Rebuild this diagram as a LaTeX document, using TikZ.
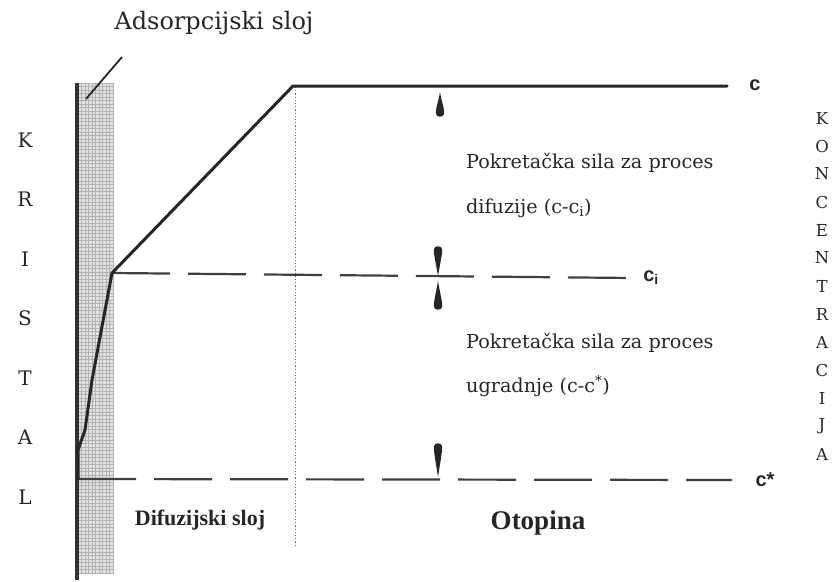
\documentclass[tikz,border=0pt]{standalone}
\usepackage{fontspec}
\setmainfont{DejaVu Serif}
\newfontfamily\labsans{Liberation Sans}
\newfontfamily\timesf{Liberation Serif}
\begin{document}
\begin{tikzpicture}[x=1pt,y=-1pt,
  txt/.style={inner sep=0pt, text=black!85},
  body/.style={txt, font=\fontsize{19.2}{21}\selectfont, anchor=west},
  vletter/.style={txt, font=\fontsize{20}{22}\selectfont},
  hletter/.style={txt, font=\fontsize{16.5}{18}\selectfont},
  clabel/.style={txt, font=\labsans\bfseries\fontsize{20}{22}\selectfont},
  profile/.style={line width=3pt, black!85, line join=round, line cap=round},
  dashline/.style={line width=2.2pt, black!75, dash pattern=on 58pt off 18pt},
  teardrop/.pic={\fill[black!85] (0,0) .. controls (1.2,8) and (4.3,\tdl-9) .. (4.2,\tdl-3.5)
      .. controls (4,\tdl+0.8) and (-4,\tdl+0.8) .. (-4.2,\tdl-3.5)
      .. controls (-4.3,\tdl-9) and (-1.2,8) .. cycle;}
]
\useasboundingbox (0,0) rectangle (834,581);

% crystal / adsorption strip
\fill[gray!22] (76,83) rectangle (113,574);
\foreach \i in {0,...,140} {\draw[gray!60, line width=0.5pt] (76,{83+3.5*\i}) -- (113,{83+3.5*\i});}
\foreach \i in {0,...,10} {\draw[gray!60, line width=0.5pt] ({78+3.5*\i},83) -- ({78+3.5*\i},574);}
\draw[line width=3.5pt, black!80] (77,83) -- (77,580);

% key points
\coordinate (p0) at (78,479);
\coordinate (p1) at (78,450);
\coordinate (p2) at (85,430);
\coordinate (p3) at (92,380);
\coordinate (ki) at (112,273);
\coordinate (ktop) at (293,86);
\coordinate (cend) at (727,86);
\coordinate (ciend) at (632,278);
\coordinate (csend) at (732,480);
\coordinate (ldA) at (122,57);
\coordinate (ldB) at (86,99);
\coordinate (dotA) at (295,87);
\coordinate (dotB) at (295,545);

% leader line to adsorption layer
\draw[line width=1.8pt, black!85] (ldA) -- (ldB);

% dotted boundary of the diffusion layer
\draw[black!60, line width=0.8pt, dash pattern=on 1.2pt off 2pt] (dotA) -- (dotB);

% dashed levels
\draw[dashline] (ki) -- (ciend);
\draw[dashline] (p0) -- (csend);

% concentration profile
\draw[profile] (p0) -- (p1) -- (p2) -- (p3) -- (ki) -- (ktop) -- (cend);

% arrow heads
\def\tdl{25}
\pic at (440,92) {teardrop};
\def\tdl{30}
\pic[rotate=180] at (438,276) {teardrop};
\def\tdl{29}
\pic at (438,281) {teardrop};
\def\tdl{34}
\pic[rotate=180] at (438,477) {teardrop};

% labels
\node[txt, font=\fontsize{24}{26}\selectfont] (adsorp) at (214,23) {Adsorpcijski sloj};
\node[clabel] (lc) at (755,85) {c};
\node[clabel] (lci) at (651,278) {c\textsubscript{i}};
\node[clabel] (lcs) at (765,480) {c*};

\node[body] (t1a) at (466,163) {Pokretačka sila za proces};
\node[body] (t1b) at (466,208) {difuzije (c-c\textsubscript{i})};
\node[body] (t2a) at (466,343) {Pokretačka sila za proces};
\node[body] (t2b) at (466,386) {ugradnje (c-c\textsuperscript{*})};

\node[txt, font=\timesf\bfseries\fontsize{22}{24}\selectfont] (difsl) at (200,520) {Difuzijski sloj};
\node[txt, font=\timesf\bfseries\fontsize{27}{29}\selectfont] (otop) at (538,523) {Otopina};

% KRISTAL
\foreach \l [count=\k from 0] in {K,R,I,S,T,A,L}
  {\node[vletter] (kr\k) at (25,{140+59.5*\k}) {\l};}
% KONCENTRACIJA
\foreach \l [count=\k from 0] in {K,O,N,C,E,N,T,R,A,C,I,J,A}
  {\node[hletter] (ko\k) at (822,{118+28*\k}) {\l};}
\end{tikzpicture}
\end{document}
